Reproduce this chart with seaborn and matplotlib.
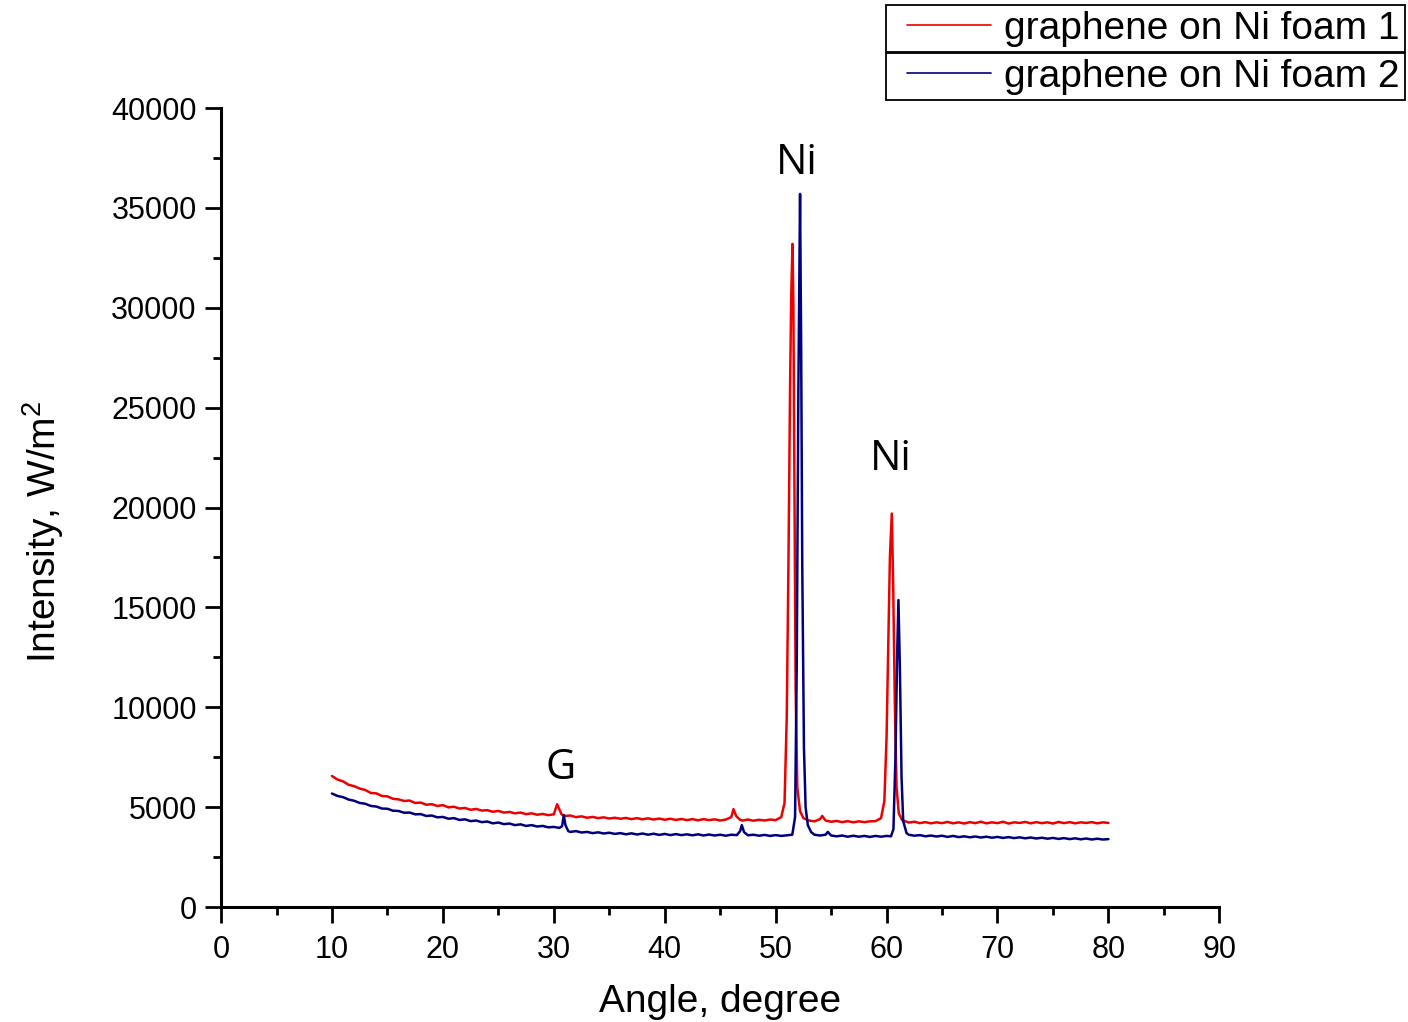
import pandas as pd
import matplotlib
matplotlib.use('Agg')
import matplotlib.pyplot as plt
import seaborn as sns
from matplotlib.legend_handler import HandlerLine2D
from matplotlib.ticker import MultipleLocator

# Sample 1 (red) - angle / intensity
angle_1 = [
    10.0, 10.5, 11.0, 11.5, 12.0, 12.5, 13.0, 13.5, 14.0, 14.5, 15.0, 15.5, 16.0, 16.5,
    17.0, 17.5, 18.0, 18.5, 19.0, 19.5, 20.0, 20.5, 21.0, 21.5, 22.0, 22.5, 23.0, 23.5,
    24.0, 24.5, 25.0, 25.5, 26.0, 26.5, 27.0, 27.5, 28.0, 28.5, 29.0, 29.5, 30.0, 30.15,
    30.3, 30.45, 30.7, 31.0, 31.5, 32.0, 32.5, 33.0, 33.5, 34.0, 34.5, 35.0, 35.5, 36.0,
    36.5, 37.0, 37.5, 38.0, 38.5, 39.0, 39.5, 40.0, 40.5, 41.0, 41.5, 42.0, 42.5, 43.0,
    43.5, 44.0, 44.5, 45.0, 45.5, 46.0, 46.2, 46.45, 46.8, 47.0, 47.5, 48.0, 48.5, 49.0,
    49.5, 50.0, 50.5, 50.8, 51.0, 51.15, 51.3, 51.4, 51.52, 51.6, 51.7, 51.8, 51.95, 52.2,
    52.5, 53.0, 53.5, 54.0, 54.2, 54.5, 55.0, 55.5, 56.0, 56.5, 57.0, 57.5, 58.0, 58.5,
    59.0, 59.5, 59.8, 60.0, 60.15, 60.3, 60.47, 60.6, 60.75, 60.9, 61.1, 61.4, 62.0, 62.5,
    63.0, 63.5, 64.0, 64.5, 65.0, 65.5, 66.0, 66.5, 67.0, 67.5, 68.0, 68.5, 69.0, 69.5,
    70.0, 70.5, 71.0, 71.5, 72.0, 72.5, 73.0, 73.5, 74.0, 74.5, 75.0, 75.5, 76.0, 76.5,
    77.0, 77.5, 78.0, 78.5, 79.0, 79.5, 80.0,
]
intensity_1 = [
    6560, 6380, 6290, 6120, 6050, 5930, 5860, 5710, 5690, 5560, 5540, 5420, 5390, 5310,
    5330, 5210, 5230, 5120, 5150, 5060, 5100, 4990, 5020, 4930, 4960, 4870, 4910, 4830,
    4850, 4770, 4810, 4730, 4760, 4690, 4730, 4650, 4690, 4620, 4660, 4600, 4640, 4900,
    5150, 4950, 4640, 4560, 4580, 4500, 4540, 4470, 4510, 4450, 4490, 4430, 4470, 4420,
    4460, 4400, 4450, 4390, 4440, 4380, 4430, 4370, 4420, 4360, 4410, 4350, 4400, 4340,
    4400, 4350, 4390, 4330, 4380, 4500, 4900, 4550, 4360, 4330, 4380, 4320, 4370, 4330,
    4380, 4350, 4500, 5200, 9500, 17000, 26000, 30500, 33200, 30000, 20000, 11000, 6000, 4800,
    4450, 4330, 4290, 4400, 4560, 4330, 4270, 4310, 4250, 4300, 4240, 4290, 4250, 4290,
    4300, 4450, 5300, 8500, 13000, 17500, 19700, 16000, 10000, 6000, 4700, 4350, 4230, 4270,
    4200, 4250, 4190, 4240, 4200, 4260, 4190, 4240, 4180, 4250, 4200, 4270, 4190, 4240,
    4200, 4270, 4180, 4240, 4210, 4260, 4190, 4250, 4200, 4240, 4180, 4260, 4200, 4250,
    4190, 4240, 4210, 4250, 4190, 4240, 4210,
]

# Sample 2 (navy)
angle_2 = [
    10.0, 10.5, 11.0, 11.5, 12.0, 12.5, 13.0, 13.5, 14.0, 14.5, 15.0, 15.5, 16.0, 16.5,
    17.0, 17.5, 18.0, 18.5, 19.0, 19.5, 20.0, 20.5, 21.0, 21.5, 22.0, 22.5, 23.0, 23.5,
    24.0, 24.5, 25.0, 25.5, 26.0, 26.5, 27.0, 27.5, 28.0, 28.5, 29.0, 29.5, 30.0, 30.5,
    30.75, 30.9, 31.05, 31.3, 31.5, 32.0, 32.5, 33.0, 33.5, 34.0, 34.5, 35.0, 35.5, 36.0,
    36.5, 37.0, 37.5, 38.0, 38.5, 39.0, 39.5, 40.0, 40.5, 41.0, 41.5, 42.0, 42.5, 43.0,
    43.5, 44.0, 44.5, 45.0, 45.5, 46.0, 46.5, 46.8, 46.95, 47.15, 47.5, 48.0, 48.5, 49.0,
    49.5, 50.0, 50.5, 51.0, 51.5, 51.75, 51.9, 52.05, 52.2, 52.3, 52.4, 52.55, 52.7, 52.9,
    53.2, 53.5, 54.0, 54.5, 54.7, 55.0, 55.5, 56.0, 56.5, 57.0, 57.5, 58.0, 58.5, 59.0,
    59.5, 60.0, 60.4, 60.62, 60.8, 60.95, 61.07, 61.2, 61.35, 61.5, 61.8, 62.0, 62.5, 63.0,
    63.5, 64.0, 64.5, 65.0, 65.5, 66.0, 66.5, 67.0, 67.5, 68.0, 68.5, 69.0, 69.5, 70.0,
    70.5, 71.0, 71.5, 72.0, 72.5, 73.0, 73.5, 74.0, 74.5, 75.0, 75.5, 76.0, 76.5, 77.0,
    77.5, 78.0, 78.5, 79.0, 79.5, 80.0,
]
intensity_2 = [
    5680, 5560, 5500, 5380, 5320, 5210, 5170, 5060, 5030, 4930, 4920, 4820, 4810, 4720,
    4730, 4640, 4650, 4560, 4580, 4490, 4510, 4420, 4450, 4360, 4390, 4300, 4330, 4250,
    4280, 4190, 4230, 4150, 4180, 4100, 4140, 4060, 4100, 4030, 4060, 3990, 4010, 3960,
    4050, 4600, 4100, 3800, 3760, 3800, 3730, 3760, 3700, 3740, 3680, 3720, 3660, 3700,
    3640, 3690, 3630, 3680, 3620, 3670, 3610, 3660, 3600, 3650, 3600, 3640, 3590, 3640,
    3580, 3630, 3580, 3620, 3570, 3620, 3600, 3800, 4100, 3750, 3590, 3620, 3570, 3610,
    3560, 3600, 3560, 3590, 3620, 4500, 12000, 26000, 35700, 28000, 17000, 8000, 5000, 4100,
    3750, 3620, 3580, 3620, 3760, 3580, 3540, 3580, 3520, 3570, 3520, 3560, 3510, 3560,
    3520, 3560, 3540, 3900, 7500, 12500, 15370, 12000, 6500, 4300, 3700, 3620, 3570, 3600,
    3540, 3580, 3530, 3570, 3510, 3560, 3500, 3540, 3490, 3530, 3480, 3520, 3470, 3510,
    3460, 3500, 3450, 3490, 3440, 3480, 3430, 3470, 3420, 3460, 3410, 3450, 3400, 3440,
    3390, 3430, 3380, 3420, 3380, 3400,
]

series_labels = ['graphene on Ni foam 1', 'graphene on Ni foam 2']
series_colors = ['#ee0000', '#00007f']

# Peak annotations
note_text = ['G', 'Ni', 'Ni']
note_x = [30.6, 51.9, 60.4]
note_y = [5900, 36200, 21400]

df1 = pd.DataFrame({'angle': angle_1, 'intensity': intensity_1})
df2 = pd.DataFrame({'angle': angle_2, 'intensity': intensity_2})

sns.set_theme(style='ticks')
plt.rcParams['font.family'] = ['Liberation Sans', 'DejaVu Sans']
plt.rcParams['mathtext.default'] = 'regular'
plt.rcParams['text.color'] = 'black'

fig = plt.figure(figsize=(14.08, 10.22), dpi=100)
ax = fig.add_axes([0.157, 0.1125, 0.709, 0.7818])

sns.lineplot(data=df1, x='angle', y='intensity', color=series_colors[0], lw=1.8,
             estimator=None, sort=False, label=series_labels[0], ax=ax)
sns.lineplot(data=df2, x='angle', y='intensity', color=series_colors[1], lw=1.8,
             estimator=None, sort=False, label=series_labels[1], ax=ax)
if ax.get_legend() is not None:
    ax.get_legend().remove()

ax.set_xlim(0, 90)
ax.set_ylim(0, 40000)
ax.xaxis.set_major_locator(MultipleLocator(10))
ax.xaxis.set_minor_locator(MultipleLocator(5))
ax.yaxis.set_major_locator(MultipleLocator(5000))
ax.yaxis.set_minor_locator(MultipleLocator(2500))

for side in ['top', 'right']:
    ax.spines[side].set_visible(False)
for side in ['left', 'bottom']:
    ax.spines[side].set_linewidth(2.2)
    ax.spines[side].set_color('black')

ax.tick_params(which='major', direction='out', length=11.5, width=2.0,
               labelsize=22, color='black', labelcolor='black', pad=6)
ax.tick_params(axis='x', which='major', pad=9)
ax.tick_params(which='minor', direction='out', length=5.8, width=2.0, color='black')

ax.set_xlabel('Angle, degree', fontsize=28, color='black', labelpad=13)
ax.set_ylabel('Intensity, W/m$^2$', fontsize=28, color='black')
ax.yaxis.set_label_coords(-0.155, 0.469)

for t, x, y in zip(note_text, note_x, note_y):
    ax.text(x, y, t, ha='center', va='bottom', fontsize=30,
            family=['Open Sans', 'DejaVu Sans'], color='black')

# Origin-style legend: one boxed row per series
handles = ax.get_lines()[:2]
tops = [0.995, 0.948]
for h, lab, top in zip(handles, series_labels, tops):
    leg = fig.legend(handles=[h], labels=[lab], loc='upper right',
                     bbox_to_anchor=(0.998, top), bbox_transform=fig.transFigure,
                     fontsize=28, frameon=True, fancybox=False, framealpha=1,
                     edgecolor='black', borderpad=0.14, borderaxespad=0,
                     handlelength=2.56, handletextpad=0.33,
                     handler_map={h: HandlerLine2D(xpad=0.4)})
    leg.get_frame().set_linewidth(1.3)
    for txt in leg.get_texts():
        txt.set_color('black')
    for ln in leg.get_lines():
        ln.set_linewidth(1.2)

fig.savefig('out.png', dpi=100)
